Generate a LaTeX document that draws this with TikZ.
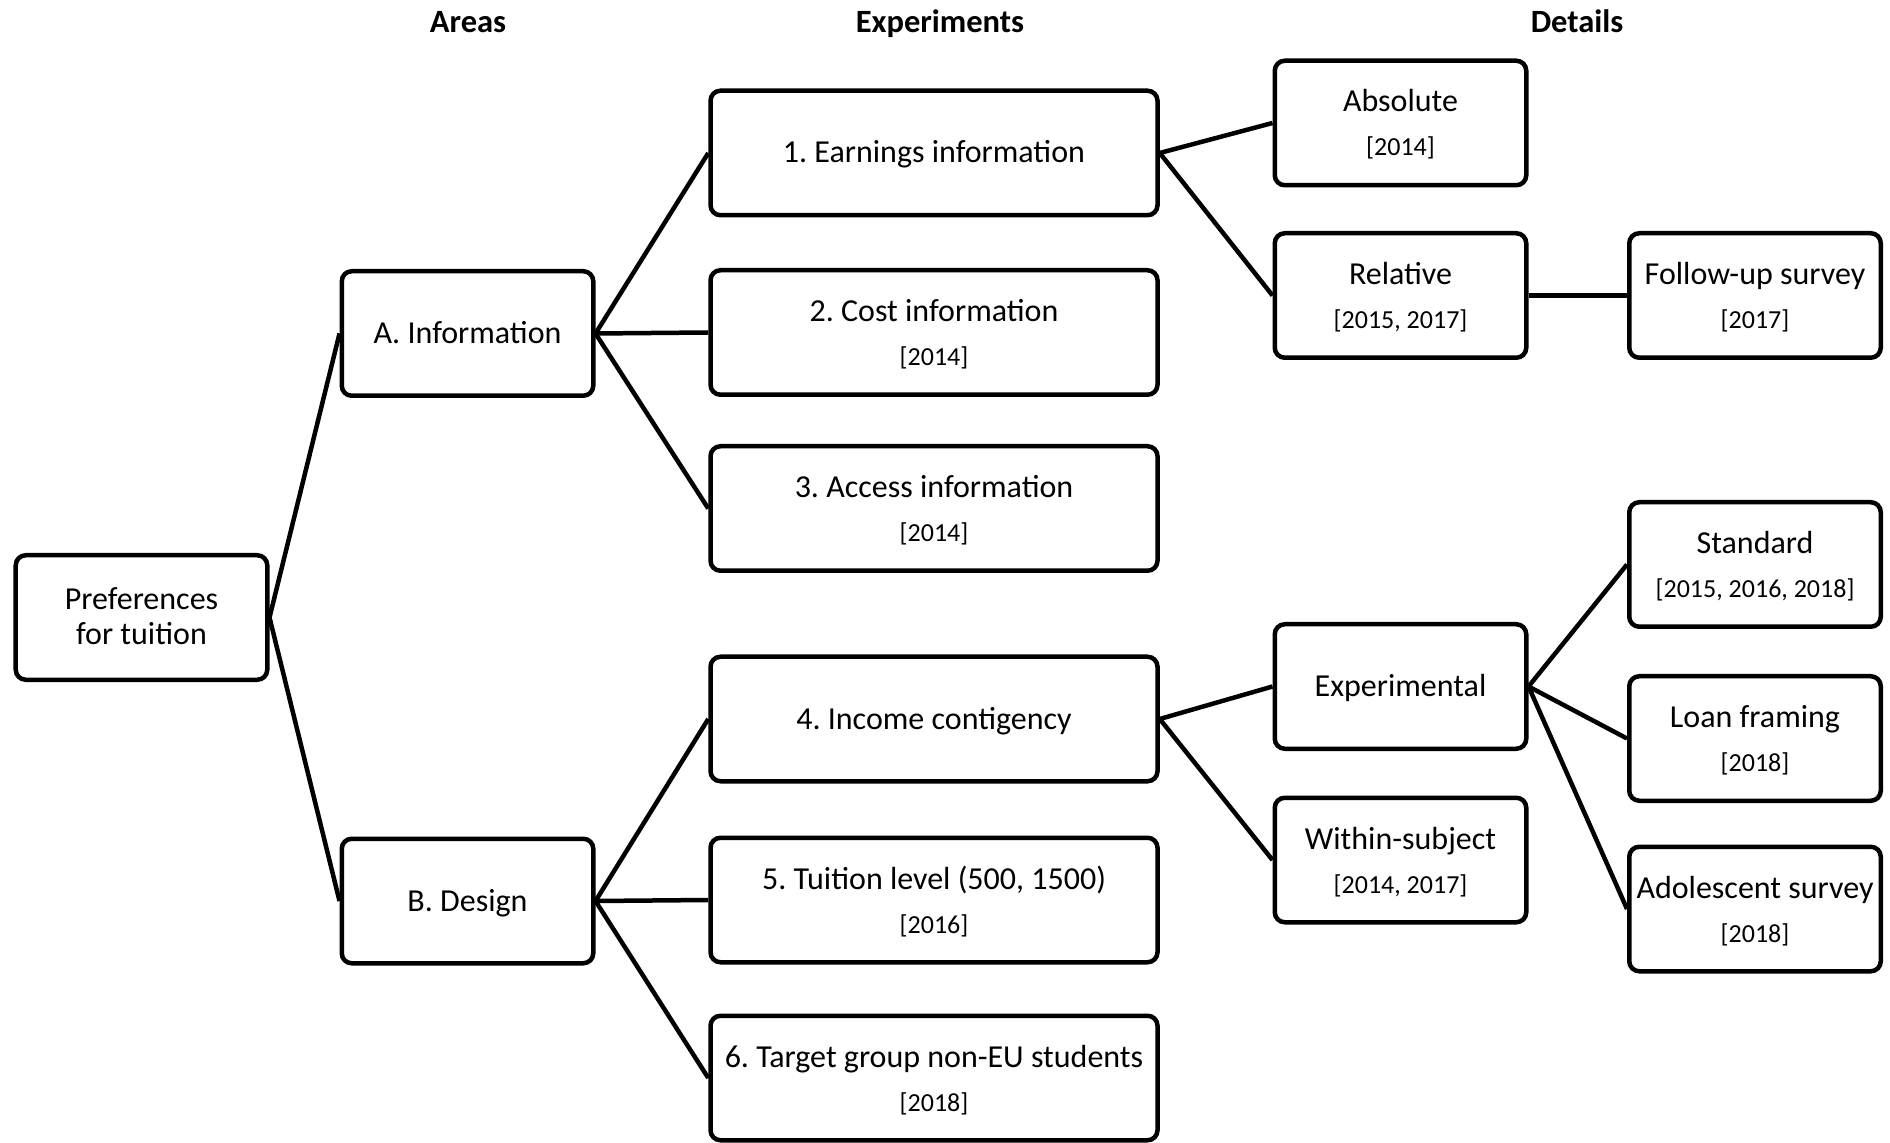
\documentclass[tikz,border=0pt]{standalone}
\usepackage{fontspec}
\setmainfont{Carlito}
\usetikzlibrary{calc}
\frenchspacing
\newcommand\boxone[5]{%
  \node[#1] (#2) at (#3,#4) {};
  \node[ttl] (#2t) at ($(#2.center)+(0,10)$) {#5};}
\newcommand\boxtwo[6]{%
  \node[#1] (#2) at (#3,#4) {};
  \node[ttl] (#2t) at ($(#2.center)+(0,-11)$) {#5};
  \node[yr] (#2y) at ($(#2.center)+(0,33)$) {#6};}
\begin{document}
\begin{tikzpicture}[x=0.4pt,y=-0.4pt,
  box/.style={draw,line width=1.8pt,rounded corners=4pt,minimum width=100.6pt,minimum height=49.8pt,inner sep=0pt},
  wide/.style={box,minimum width=178.8pt},
  edge/.style={line width=1.8pt},
  ttl/.style={anchor=base,inner sep=0pt,font=\fontsize{12.8}{15}\selectfont},
  yr/.style={anchor=base,inner sep=0pt,font=\fontsize{10.4}{12}\selectfont},
  hdr/.style={anchor=base,inner sep=0pt,font=\fontsize{13}{15}\selectfont\bfseries}]
\useasboundingbox (0,0) rectangle (1890,1143);
% headers
\node[hdr] (h1) at (468,33) {Areas};
\node[hdr] (h2) at (940,33) {Experiments};
\node[hdr] (h3) at (1577,33) {Details};
% root
\node[box] (pref) at (141.5,617.5) {};
\node[ttl] (preft1) at ($(pref.center)+(0,-7.5)$) {Preferences};
\node[ttl] (preft2) at ($(pref.center)+(0,27.5)$) {for tuition};
% areas
\boxone{box}{A}{467.5}{333.5}{A. Information}
\boxone{box}{B}{467.5}{901}{B. Design}
% experiments
\boxone{wide}{e1}{934}{153}{1. Earnings information}
\boxtwo{wide}{e2}{934}{332.5}{2. Cost information}{[2014]}
\boxtwo{wide}{e3}{934}{508.5}{3. Access information}{[2014]}
\boxone{wide}{e4}{934}{719}{4. Income contigency}
\boxtwo{wide}{e5}{934}{900}{5. Tuition level (500, 1500)}{[2016]}
\boxtwo{wide}{e6}{934}{1078}{6. Target group non-EU students}{[2018]}
% details
\boxtwo{box}{abs}{1400.5}{123}{Absolute}{[2014]}
\boxtwo{box}{rel}{1400.5}{295.5}{Relative}{[2015, 2017]}
\boxtwo{box}{fol}{1755}{295.5}{Follow-up survey}{[2017]}
\boxone{box}{expm}{1400.5}{686.5}{Experimental}
\boxtwo{box}{wit}{1400.5}{860}{Within-subject}{[2014, 2017]}
\boxtwo{box}{std}{1755}{564.5}{Standard}{[2015, 2016, 2018]}
\boxtwo{box}{loan}{1755}{738.5}{Loan framing}{[2018]}
\boxtwo{box}{ado}{1755}{909}{Adolescent survey}{[2018]}
% edges
\draw[edge] (pref.east) -- (A.west);
\draw[edge] (pref.east) -- (B.west);
\draw[edge] (A.east) -- (e1.west);
\draw[edge] (A.east) -- (e2.west);
\draw[edge] (A.east) -- (e3.west);
\draw[edge] (B.east) -- (e4.west);
\draw[edge] (B.east) -- (e5.west);
\draw[edge] (B.east) -- (e6.west);
\draw[edge] (e1.east) -- (abs.west);
\draw[edge] (e1.east) -- (rel.west);
\draw[edge] (rel.east) -- (fol.west);
\draw[edge] (e4.east) -- (expm.west);
\draw[edge] (e4.east) -- (wit.west);
\draw[edge] (expm.east) -- (std.west);
\draw[edge] (expm.east) -- (loan.west);
\draw[edge] (expm.east) -- (ado.west);
\end{tikzpicture}
\end{document}
